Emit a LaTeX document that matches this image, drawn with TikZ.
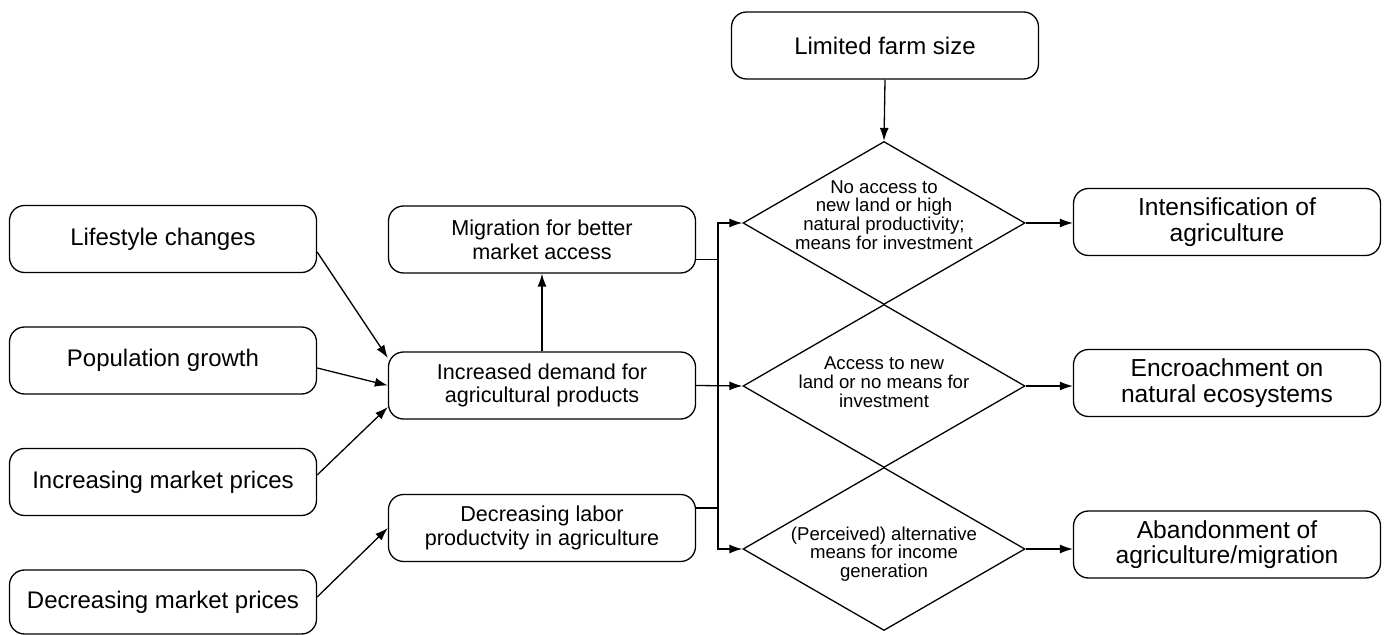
\documentclass[tikz,border=0pt]{standalone}
\usepackage{fontspec}
\setmainfont{Liberation Sans}
\usetikzlibrary{shapes.geometric}
\usetikzlibrary{arrows.meta}
\usetikzlibrary{positioning}

\tikzset{
  box/.style={draw, rounded corners=7.5pt, minimum width=153.5pt, minimum height=33.5pt, inner sep=0pt, align=center},
  driver/.style={box, font=\fontsize{12}{14}\selectfont},
  factor/.style={box, font=\fontsize{10.8}{11.8}\selectfont},
  outcome/.style={box, font=\fontsize{12.3}{12.8}\selectfont},
  decision/.style={draw, diamond, minimum width=141pt, minimum height=81.5pt, inner sep=0pt},
  condition/.style={align=center, inner sep=0pt, font=\fontsize{9.3}{9.4}\selectfont}
}

\begin{document}
\begin{tikzpicture}[x=0.5pt, y=-0.5pt, line width=0.65pt, >={Latex[length=6.5pt,width=4.5pt]}]
\useasboundingbox (0,0) rectangle (1385,635);

\node[driver] (life) at (163,239) {Lifestyle changes};
\node[driver] (pop) at (163,360.5) {Population growth};
\node[driver] (incp) at (163,482) {Increasing market prices};
\node[driver, minimum height=32pt] (decp) at (163,602) {Decreasing market prices};

\node[factor] (mig) at (542,239.5) {Migration for better\\market access};
\node[factor] (dem) at (542,385.5) {Increased demand for\\agricultural products};
\node[factor] (lab) at (542,528) {Decreasing labor\\productvity in agriculture};

\node[driver] (farm) at (885,45.5) {Limited farm size};

\node[decision] (d1) at (884,223) {};
\node[decision] (d2) at (884,386) {};
\node[decision] (d3) at (884,549) {};
\node[condition] (c1) at ([yshift=4pt]d1) {No access to\\new land or high\\natural productivity;\\means for investment};
\node[condition] (c2) at ([yshift=2pt]d2) {Access to new\\land or no means for\\investment};
\node[condition] (c3) at ([yshift=-2.5pt]d3) {(Perceived) alternative\\means for income\\generation};

\node[outcome] (intens) at (1227,222) {Intensification of\\agriculture};
\node[outcome] (encr) at (1227,383) {Encroachment on\\natural ecosystems};
\node[outcome] (aband) at (1227,544.5) {Abandonment of\\agriculture/migration};

\coordinate (bus) at (718,386);

\draw[->] ([yshift=-6.5pt]life.east) -- ([yshift=13.75pt]dem.west);
\draw[->] ([yshift=-3.75pt]pop.east) -- (dem.west);
\draw[->] ([yshift=3.5pt]incp.east) -- ([yshift=-10.75pt]dem.west);
\draw[->] ([yshift=2.5pt]decp.east) -- (lab.west);
\draw[->] (dem.north) -- (mig.south);
\draw[->] (farm.south) -- (d1.north);

\draw ([yshift=-10pt]mig.east) -- ([yshift=-10pt]mig.east -| bus);
\draw ([yshift=10pt]lab.east) -- ([yshift=10pt]lab.east -| bus);
\draw[<->] (d1.west) -| (bus) |- (d3.west);
\draw[->] (dem.east) -- (d2.west);

\draw[->] (d1.east) -- (d1.east -| intens.west);
\draw[->] (d2.east) -- (d2.east -| encr.west);
\draw[->] (d3.east) -- (d3.east -| aband.west);
\end{tikzpicture}
\end{document}
